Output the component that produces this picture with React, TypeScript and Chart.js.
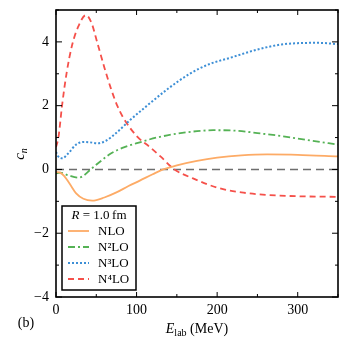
import React, { useEffect, useRef } from "react";
import { Chart, registerables } from "chart.js";
Chart.register(...registerables);

const energies_nlo = [0, 5, 10, 17, 25, 34, 45, 60, 75, 90, 104, 120, 133, 150, 175, 200, 230, 262, 300, 350];
const values_nlo = [-0.08, -0.1, -0.2, -0.45, -0.75, -0.92, -0.98, -0.88, -0.72, -0.52, -0.35, -0.15, 0, 0.13, 0.27, 0.37, 0.44, 0.47, 0.46, 0.41];
const energies_n2lo = [0, 5, 15, 28, 35, 43, 55, 68, 85, 104, 125, 150, 175, 195, 220, 250, 282, 310, 350];
const values_n2lo = [-0.12, -0.1, -0.18, -0.26, -0.18, 0, 0.25, 0.5, 0.7, 0.85, 1.0, 1.12, 1.2, 1.23, 1.22, 1.14, 1.04, 0.93, 0.78];
const energies_n3lo = [0, 3, 8, 15, 25, 34, 42, 52, 62, 75, 92, 113, 140, 166, 190, 216, 250, 280, 300, 325, 350];
const values_n3lo = [0.55, 0.4, 0.35, 0.5, 0.78, 0.86, 0.85, 0.82, 0.9, 1.15, 1.55, 2.0, 2.55, 3.0, 3.3, 3.5, 3.76, 3.92, 3.96, 3.97, 3.93];
const energies_n4lo = [0, 3, 7.5, 13, 20, 28, 37, 44, 51, 60, 68, 76, 84, 100, 117, 130, 147, 170, 200, 230, 262, 300, 350];
const values_n4lo = [0.7, 1.0, 2.0, 3.0, 3.9, 4.5, 4.84, 4.6, 4.0, 3.2, 2.55, 2.0, 1.6, 1.05, 0.69, 0.4, 0, -0.28, -0.57, -0.72, -0.8, -0.84, -0.86];

const seriesLabels = ["NLO", "N\u00B2LO", "N\u00B3LO", "N\u2074LO"];
const legendTitle = "R = 1.0 fm";
const xTickLabels = [0, 100, 200, 300];
const yTickLabels = [-4, -2, 0, 2, 4];

const SERIF = "'Liberation Serif', 'DejaVu Serif', serif";

const pts = (xs: number[], ys: number[]) => xs.map((x, i) => ({ x, y: ys[i] }));

const fmt = (v: number) => (v < 0 ? "\u2212" + Math.abs(v) : String(v));

const decorPlugin = {
  id: "decor",
  beforeDatasetsDraw(chart: any) {
    const { ctx, chartArea, scales } = chart;
    const y0 = scales.y.getPixelForValue(0);
    ctx.save();
    ctx.strokeStyle = "#6e6e6e";
    ctx.lineWidth = 1.5;
    ctx.setLineDash([8, 5]);
    ctx.beginPath();
    ctx.moveTo(chartArea.left, y0);
    ctx.lineTo(chartArea.right, y0);
    ctx.stroke();
    ctx.restore();
  },
  afterDraw(chart: any) {
    const { ctx, chartArea, scales } = chart;
    const { left, right, top, bottom } = chartArea;
    ctx.save();
    // ticks
    ctx.strokeStyle = "#000";
    ctx.lineWidth = 1;
    for (let v = 0; v <= 350; v += 50) {
      const x = scales.x.getPixelForValue(v);
      const len = v % 100 === 0 ? 5 : 3;
      ctx.beginPath();
      ctx.moveTo(x, bottom);
      ctx.lineTo(x, bottom - len);
      ctx.moveTo(x, top);
      ctx.lineTo(x, top + len);
      ctx.stroke();
    }
    for (let v = -4; v <= 5; v += 1) {
      const y = scales.y.getPixelForValue(v);
      const len = v % 2 === 0 ? 6 : 3;
      ctx.beginPath();
      ctx.moveTo(left, y);
      ctx.lineTo(left + len, y);
      ctx.moveTo(right, y);
      ctx.lineTo(right - len, y);
      ctx.stroke();
    }
    // frame
    ctx.lineWidth = 1.6;
    ctx.strokeRect(left, top, right - left, bottom - top);

    // legend
    const lx = 62, ly = 206, lw = 74, lh = 84;
    ctx.fillStyle = "#fff";
    ctx.fillRect(lx, ly, lw, lh);
    ctx.strokeStyle = "#000";
    ctx.lineWidth = 1.5;
    ctx.strokeRect(lx, ly, lw, lh);
    ctx.fillStyle = "#000";
    ctx.textBaseline = "middle";
    ctx.textAlign = "left";
    // title: italic R
    ctx.font = `italic 13px ${SERIF}`;
    const parts = legendTitle.split(" ");
    const rW = ctx.measureText(parts[0]).width;
    ctx.font = `13px ${SERIF}`;
    const rest = " " + parts.slice(1).join(" ").replace(" fm", "\u2009fm");
    const restW = ctx.measureText(rest).width;
    const tx = lx + lw / 2 - (rW + restW) / 2;
    ctx.font = `italic 13px ${SERIF}`;
    ctx.fillText(parts[0], tx, ly + 10);
    ctx.font = `13px ${SERIF}`;
    ctx.fillText(rest, tx + rW, ly + 10);
    const rowY = [231, 247, 263, 279];
    chart.data.datasets.forEach((ds: any, i: number) => {
      const y = rowY[i];
      ctx.strokeStyle = ds.borderColor;
      ctx.lineWidth = ds.borderWidth;
      ctx.setLineDash(ds.borderDash || []);
      ctx.beginPath();
      ctx.moveTo(68, y);
      ctx.lineTo(89, y);
      ctx.stroke();
      ctx.setLineDash([]);
      ctx.fillStyle = "#000";
      ctx.font = `13px ${SERIF}`;
      ctx.fillText(ds.label, 98, y + 0.5);
    });

    // y title: c_n rotated
    ctx.save();
    ctx.translate(20, 154);
    ctx.rotate(-Math.PI / 2);
    ctx.textAlign = "left";
    ctx.textBaseline = "alphabetic";
    ctx.font = `italic 15px ${SERIF}`;
    const cW = ctx.measureText("c").width;
    ctx.font = `italic 10px ${SERIF}`;
    const nW = ctx.measureText("n").width;
    const start = -(cW + nW) / 2;
    ctx.font = `italic 15px ${SERIF}`;
    ctx.fillText("c", start, 4);
    ctx.font = `italic 10px ${SERIF}`;
    ctx.fillText("n", start + cW, 7);
    ctx.restore();

    // x title: E_lab (MeV)
    ctx.textBaseline = "alphabetic";
    ctx.textAlign = "left";
    ctx.font = `italic 14px ${SERIF}`;
    const eW = ctx.measureText("E").width;
    ctx.font = `10px ${SERIF}`;
    const labW = ctx.measureText("lab").width;
    ctx.font = `14px ${SERIF}`;
    const mevW = ctx.measureText(" (MeV)").width;
    const sx = 197 - (eW + labW + mevW) / 2;
    ctx.font = `italic 14px ${SERIF}`;
    ctx.fillText("E", sx, 333);
    ctx.font = `10px ${SERIF}`;
    ctx.fillText("lab", sx + eW, 336);
    ctx.font = `14px ${SERIF}`;
    ctx.fillText(" (MeV)", sx + eW + labW, 333);

    // panel label
    ctx.font = `14px ${SERIF}`;
    ctx.textAlign = "center";
    ctx.textBaseline = "middle";
    ctx.fillText("(b)", 26, 323);
    ctx.restore();
  },
};

export default function App() {
  const ref = useRef<HTMLCanvasElement | null>(null);
  useEffect(() => {
    if (!ref.current) return;
    const chart = new Chart(ref.current, {
      type: "line",
      data: {
        datasets: [
          {
            label: seriesLabels[0],
            data: pts(energies_nlo, values_nlo),
            borderColor: "#fdab66",
            borderWidth: 1.8,
            pointRadius: 0,
            cubicInterpolationMode: "monotone",
          },
          {
            label: seriesLabels[1],
            data: pts(energies_n2lo, values_n2lo),
            borderColor: "#55b255",
            borderWidth: 1.8,
            borderDash: [7, 3, 2, 3],
            pointRadius: 0,
            cubicInterpolationMode: "monotone",
          },
          {
            label: seriesLabels[2],
            data: pts(energies_n3lo, values_n3lo),
            borderColor: "#3d8fd6",
            borderWidth: 2,
            borderDash: [2, 2],
            pointRadius: 0,
            cubicInterpolationMode: "monotone",
          },
          {
            label: seriesLabels[3],
            data: pts(energies_n4lo, values_n4lo),
            borderColor: "#f5504a",
            borderWidth: 1.8,
            borderDash: [6, 4],
            pointRadius: 0,
            cubicInterpolationMode: "monotone",
          },
        ],
      } as any,
      options: {
        animation: false,
        responsive: true,
        maintainAspectRatio: false,
        layout: { padding: { top: 10, right: 11, left: 0, bottom: 0 } },
        plugins: { legend: { display: false }, tooltip: { enabled: false } },
        scales: {
          x: {
            type: "linear",
            min: 0,
            max: 350,
            grid: { display: false },
            border: { display: false },
            afterFit: (s: any) => {
              s.height = 52;
            },
            ticks: {
              stepSize: 50,
              autoSkip: false,
              maxRotation: 0,
              padding: -3,
              color: "#000",
              font: { family: SERIF, size: 14 },
              callback: (v: any) => (xTickLabels.includes(Number(v)) ? fmt(Number(v)) : ""),
            },
          },
          y: {
            type: "linear",
            min: -4,
            max: 5,
            grid: { display: false },
            border: { display: false },
            afterFit: (s: any) => {
              s.width = 56;
            },
            ticks: {
              stepSize: 1,
              autoSkip: false,
              padding: -1,
              color: "#000",
              font: { family: SERIF, size: 14 },
              callback: (v: any) => (yTickLabels.includes(Number(v)) ? fmt(Number(v)) : ""),
            },
          },
        },
      } as any,
      plugins: [decorPlugin],
    });
    return () => chart.destroy();
  }, []);
  return (
    <div style={{ position: "fixed", left: 0, top: 0, width: 349, height: 349, background: "#fff" }}>
      <canvas ref={ref} />
    </div>
  );
}
